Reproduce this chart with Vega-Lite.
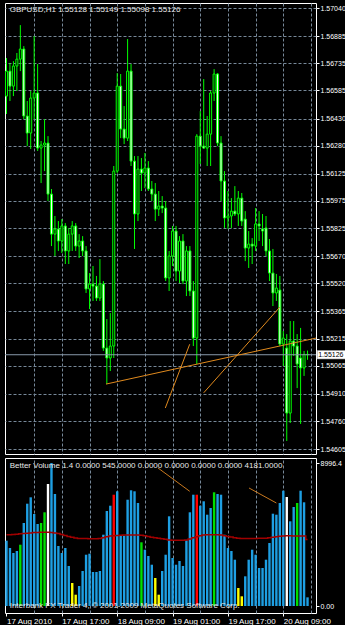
{
  "$schema": "https://vega.github.io/schema/vega-lite/v6.json",
  "background": "#000000",
  "padding": {"left": 2, "top": 2, "right": 0, "bottom": 0},
  "spacing": 2,
  "config": {
    "view": {"fill": "#000000", "stroke": "#ffffff", "strokeWidth": 1},
    "axis": {"labelColor": "#ffffff", "labelFont": "Liberation Sans", "labelFontSize": 8, "tickColor": "#ffffff", "domain": false, "gridColor": "#778899", "gridDash": [3, 2], "gridOpacity": 1, "gridWidth": 1},
    "text": {"font": "Liberation Sans", "fontSize": 8}
  },
  "datasets": {
    "candles": [
      {"i":0,"o":1.56554,"h":1.56764,"l":1.56455,"c":1.56692},
      {"i":1,"o":1.56692,"h":1.56736,"l":1.56527,"c":1.56609},
      {"i":2,"o":1.56609,"h":1.56747,"l":1.56554,"c":1.56720},
      {"i":3,"o":1.56720,"h":1.56792,"l":1.56582,"c":1.56758},
      {"i":4,"o":1.56758,"h":1.56946,"l":1.56692,"c":1.56814},
      {"i":5,"o":1.56814,"h":1.56830,"l":1.56427,"c":1.56444},
      {"i":6,"o":1.56444,"h":1.56527,"l":1.56278,"c":1.56350},
      {"i":7,"o":1.56350,"h":1.56582,"l":1.56262,"c":1.56543},
      {"i":8,"o":1.56543,"h":1.56885,"l":1.56427,"c":1.56571},
      {"i":9,"o":1.56571,"h":1.56731,"l":1.56251,"c":1.56267},
      {"i":10,"o":1.56267,"h":1.56306,"l":1.56074,"c":1.56284},
      {"i":11,"o":1.56284,"h":1.56427,"l":1.56140,"c":1.56295},
      {"i":12,"o":1.56295,"h":1.56333,"l":1.55975,"c":1.56013},
      {"i":13,"o":1.56013,"h":1.56041,"l":1.55726,"c":1.55792},
      {"i":14,"o":1.55792,"h":1.55892,"l":1.55671,"c":1.55820},
      {"i":15,"o":1.55820,"h":1.55864,"l":1.55699,"c":1.55754},
      {"i":16,"o":1.55754,"h":1.55875,"l":1.55688,"c":1.55837},
      {"i":17,"o":1.55837,"h":1.55853,"l":1.55627,"c":1.55699},
      {"i":18,"o":1.55699,"h":1.55826,"l":1.55627,"c":1.55792},
      {"i":19,"o":1.55792,"h":1.55864,"l":1.55699,"c":1.55837},
      {"i":20,"o":1.55837,"h":1.55853,"l":1.55699,"c":1.55726},
      {"i":21,"o":1.55726,"h":1.55792,"l":1.55660,"c":1.55754},
      {"i":22,"o":1.55754,"h":1.55781,"l":1.55671,"c":1.55699},
      {"i":23,"o":1.55699,"h":1.55726,"l":1.55467,"c":1.55489},
      {"i":24,"o":1.55489,"h":1.55577,"l":1.55378,"c":1.55516},
      {"i":25,"o":1.55516,"h":1.55616,"l":1.55423,"c":1.55505},
      {"i":26,"o":1.55505,"h":1.55561,"l":1.55423,"c":1.55439},
      {"i":27,"o":1.55439,"h":1.55654,"l":1.55423,"c":1.55516},
      {"i":28,"o":1.55516,"h":1.55533,"l":1.55147,"c":1.55163},
      {"i":29,"o":1.55163,"h":1.55323,"l":1.54964,"c":1.55108},
      {"i":30,"o":1.55108,"h":1.55356,"l":1.55036,"c":1.55174},
      {"i":31,"o":1.55174,"h":1.56168,"l":1.55108,"c":1.56140},
      {"i":32,"o":1.56140,"h":1.56681,"l":1.56129,"c":1.56609},
      {"i":33,"o":1.56609,"h":1.56676,"l":1.56322,"c":1.56372},
      {"i":34,"o":1.56372,"h":1.56499,"l":1.56289,"c":1.56322},
      {"i":35,"o":1.56322,"h":1.56869,"l":1.56306,"c":1.56692},
      {"i":36,"o":1.56692,"h":1.56731,"l":1.56168,"c":1.56195},
      {"i":37,"o":1.56195,"h":1.56223,"l":1.55710,"c":1.55903},
      {"i":38,"o":1.55903,"h":1.56223,"l":1.55864,"c":1.56151},
      {"i":39,"o":1.56151,"h":1.56212,"l":1.56030,"c":1.56129},
      {"i":40,"o":1.56129,"h":1.56240,"l":1.56046,"c":1.56157},
      {"i":41,"o":1.56157,"h":1.56195,"l":1.56030,"c":1.56041},
      {"i":42,"o":1.56041,"h":1.56085,"l":1.55975,"c":1.56013},
      {"i":43,"o":1.56013,"h":1.56074,"l":1.55864,"c":1.55930},
      {"i":44,"o":1.55930,"h":1.56030,"l":1.55892,"c":1.55947},
      {"i":45,"o":1.55947,"h":1.56002,"l":1.55908,"c":1.55936},
      {"i":46,"o":1.55936,"h":1.55975,"l":1.55533,"c":1.55550},
      {"i":47,"o":1.55550,"h":1.55699,"l":1.55478,"c":1.55671},
      {"i":48,"o":1.55671,"h":1.55837,"l":1.55616,"c":1.55809},
      {"i":49,"o":1.55809,"h":1.55837,"l":1.55533,"c":1.55588},
      {"i":50,"o":1.55588,"h":1.55781,"l":1.55522,"c":1.55754},
      {"i":51,"o":1.55754,"h":1.55792,"l":1.55516,"c":1.55533},
      {"i":52,"o":1.55533,"h":1.55726,"l":1.55450,"c":1.55699},
      {"i":53,"o":1.55699,"h":1.55726,"l":1.55450,"c":1.55478},
      {"i":54,"o":1.55478,"h":1.55533,"l":1.55174,"c":1.55218},
      {"i":55,"o":1.55218,"h":1.56344,"l":1.55075,"c":1.56333},
      {"i":56,"o":1.56333,"h":1.56471,"l":1.56179,"c":1.56278},
      {"i":57,"o":1.56278,"h":1.56648,"l":1.56262,"c":1.56267},
      {"i":58,"o":1.56267,"h":1.56444,"l":1.56168,"c":1.56344},
      {"i":59,"o":1.56344,"h":1.56582,"l":1.56168,"c":1.56571},
      {"i":60,"o":1.56571,"h":1.56703,"l":1.56527,"c":1.56676},
      {"i":61,"o":1.56676,"h":1.56681,"l":1.56278,"c":1.56295},
      {"i":62,"o":1.56295,"h":1.56333,"l":1.55975,"c":1.56085},
      {"i":63,"o":1.56085,"h":1.56140,"l":1.55826,"c":1.55881},
      {"i":64,"o":1.55881,"h":1.56030,"l":1.55820,"c":1.55892},
      {"i":65,"o":1.55892,"h":1.55991,"l":1.55826,"c":1.55919},
      {"i":66,"o":1.55919,"h":1.56057,"l":1.55892,"c":1.55903},
      {"i":67,"o":1.55903,"h":1.56030,"l":1.55837,"c":1.55991},
      {"i":68,"o":1.55991,"h":1.56019,"l":1.55837,"c":1.55864},
      {"i":69,"o":1.55875,"h":1.55919,"l":1.55643,"c":1.55715},
      {"i":70,"o":1.55715,"h":1.55809,"l":1.55605,"c":1.55737},
      {"i":71,"o":1.55737,"h":1.55770,"l":1.55627,"c":1.55726},
      {"i":72,"o":1.55726,"h":1.55936,"l":1.55699,"c":1.55848},
      {"i":73,"o":1.55848,"h":1.55919,"l":1.55754,"c":1.55837},
      {"i":74,"o":1.55820,"h":1.55903,"l":1.55726,"c":1.55809},
      {"i":75,"o":1.55826,"h":1.55892,"l":1.55671,"c":1.55699},
      {"i":76,"o":1.55699,"h":1.55765,"l":1.55533,"c":1.55577},
      {"i":77,"o":1.55577,"h":1.55710,"l":1.55395,"c":1.55467},
      {"i":78,"o":1.55467,"h":1.55572,"l":1.55423,"c":1.55494},
      {"i":79,"o":1.55483,"h":1.55561,"l":1.55174,"c":1.55185},
      {"i":80,"o":1.55185,"h":1.55257,"l":1.55064,"c":1.55218},
      {"i":81,"o":1.55163,"h":1.55240,"l":1.54650,"c":1.54804},
      {"i":82,"o":1.54804,"h":1.55312,"l":1.54749,"c":1.55202},
      {"i":83,"o":1.55202,"h":1.55312,"l":1.55119,"c":1.55174},
      {"i":84,"o":1.55174,"h":1.55240,"l":1.54942,"c":1.55075},
      {"i":85,"o":1.55108,"h":1.55274,"l":1.54744,"c":1.55053},
      {"i":86,"o":1.55053,"h":1.55147,"l":1.55009,"c":1.55128},
      {"i":87,"o":1.55128,"h":1.55149,"l":1.55098,"c":1.55126}
    ],
    "vol": [
      {"i":0,"v":4108,"type":"Normal","avg":4480},
      {"i":1,"v":3649,"type":"Normal","avg":4490},
      {"i":2,"v":3334,"type":"Normal","avg":4500},
      {"i":3,"v":3460,"type":"Normal","avg":4520},
      {"i":4,"v":3856,"type":"Churn","avg":4540},
      {"i":5,"v":5222,"type":"Normal","avg":4560},
      {"i":6,"v":6436,"type":"Normal","avg":4580},
      {"i":7,"v":6838,"type":"Normal","avg":4600},
      {"i":8,"v":5788,"type":"Normal","avg":4620},
      {"i":9,"v":5159,"type":"Normal","avg":4630},
      {"i":10,"v":5222,"type":"Churn","avg":4640},
      {"i":11,"v":5895,"type":"Churn","avg":4640},
      {"i":12,"v":7675,"type":"ClimaxLow","avg":4640},
      {"i":13,"v":8996.4,"type":"Normal","avg":4630},
      {"i":14,"v":7046,"type":"Normal","avg":4600},
      {"i":15,"v":3775,"type":"Normal","avg":4560},
      {"i":16,"v":3334,"type":"Normal","avg":4500},
      {"i":17,"v":3649,"type":"Normal","avg":4440},
      {"i":18,"v":2516,"type":"Normal","avg":4380},
      {"i":19,"v":1447,"type":"LowVol","avg":4320},
      {"i":20,"v":711,"type":"LowVol","avg":4280},
      {"i":21,"v":1258,"type":"Normal","avg":4250},
      {"i":22,"v":2202,"type":"Normal","avg":4240},
      {"i":23,"v":3227,"type":"Normal","avg":4240},
      {"i":24,"v":3290,"type":"Normal","avg":4230},
      {"i":25,"v":2139,"type":"Normal","avg":4230},
      {"i":26,"v":2139,"type":"Normal","avg":4230},
      {"i":27,"v":2202,"type":"Normal","avg":4240},
      {"i":28,"v":4486,"type":"Normal","avg":4300},
      {"i":29,"v":5976,"type":"Normal","avg":4360},
      {"i":30,"v":6310,"type":"Normal","avg":4400},
      {"i":31,"v":7002,"type":"ClimaxHigh","avg":4420},
      {"i":32,"v":7216,"type":"Normal","avg":4440},
      {"i":33,"v":4404,"type":"Normal","avg":4450},
      {"i":34,"v":4423,"type":"Normal","avg":4460},
      {"i":35,"v":6687,"type":"Normal","avg":4470},
      {"i":36,"v":7279,"type":"Normal","avg":4470},
      {"i":37,"v":7216,"type":"Normal","avg":4470},
      {"i":38,"v":6480,"type":"Normal","avg":4460},
      {"i":39,"v":4007,"type":"Churn","avg":4450},
      {"i":40,"v":3542,"type":"Normal","avg":4420},
      {"i":41,"v":3146,"type":"Normal","avg":4380},
      {"i":42,"v":2598,"type":"Normal","avg":4330},
      {"i":43,"v":1761,"type":"LowVol","avg":4290},
      {"i":44,"v":711,"type":"LowVol","avg":4260},
      {"i":45,"v":2202,"type":"Normal","avg":4230},
      {"i":46,"v":3227,"type":"Normal","avg":4200},
      {"i":47,"v":5643,"type":"Normal","avg":4160},
      {"i":48,"v":3020,"type":"Normal","avg":4140},
      {"i":49,"v":2598,"type":"Normal","avg":4130},
      {"i":50,"v":2831,"type":"Normal","avg":4130},
      {"i":51,"v":2516,"type":"Normal","avg":4140},
      {"i":52,"v":4133,"type":"Normal","avg":4160},
      {"i":53,"v":5895,"type":"Normal","avg":4220},
      {"i":54,"v":7002,"type":"Normal","avg":4290},
      {"i":55,"v":7002,"type":"ClimaxHigh","avg":4360},
      {"i":56,"v":6310,"type":"Normal","avg":4420},
      {"i":57,"v":6587,"type":"Normal","avg":4460},
      {"i":58,"v":5744,"type":"Normal","avg":4480},
      {"i":59,"v":6165,"type":"Normal","avg":4490},
      {"i":60,"v":7153,"type":"Churn","avg":4490},
      {"i":61,"v":7046,"type":"Normal","avg":4480},
      {"i":62,"v":7002,"type":"Normal","avg":4460},
      {"i":63,"v":4486,"type":"Normal","avg":4420},
      {"i":64,"v":3649,"type":"Normal","avg":4380},
      {"i":65,"v":3460,"type":"Normal","avg":4340},
      {"i":66,"v":2913,"type":"Normal","avg":4300},
      {"i":67,"v":1132,"type":"LowVol","avg":4270},
      {"i":68,"v":610,"type":"LowVol","avg":4250},
      {"i":69,"v":1868,"type":"Normal","avg":4240},
      {"i":70,"v":2913,"type":"Normal","avg":4240},
      {"i":71,"v":3542,"type":"Normal","avg":4240},
      {"i":72,"v":3227,"type":"Normal","avg":4250},
      {"i":73,"v":2391,"type":"Normal","avg":4260},
      {"i":74,"v":2391,"type":"Normal","avg":4260},
      {"i":75,"v":2913,"type":"Normal","avg":4270},
      {"i":76,"v":3963,"type":"Normal","avg":4290},
      {"i":77,"v":5807,"type":"Normal","avg":4320},
      {"i":78,"v":5744,"type":"Normal","avg":4360},
      {"i":79,"v":6480,"type":"Normal","avg":4390},
      {"i":80,"v":7254,"type":"Normal","avg":4410},
      {"i":81,"v":6857,"type":"ClimaxLow","avg":4420},
      {"i":82,"v":5328,"type":"Normal","avg":4420},
      {"i":83,"v":6228,"type":"Normal","avg":4410},
      {"i":84,"v":6480,"type":"Churn","avg":4400},
      {"i":85,"v":7254,"type":"Normal","avg":4400},
      {"i":86,"v":6524,"type":"Normal","avg":4400},
      {"i":87,"v":545,"type":"Normal","avg":4181}
    ],
    "trend": [
      {"id":"a","i":28.76,"p":1.54964},
      {"id":"a","i":89.45,"p":1.55218},
      {"id":"b","i":45.9,"p":1.54832},
      {"id":"b","i":52.95,"p":1.55184},
      {"id":"c","i":57.0,"p":1.54916},
      {"id":"c","i":79.0,"p":1.55389}
    ],
    "vtrend": [
      {"id":"a","i":43.8,"v":8682},
      {"id":"a","i":52.95,"v":7216},
      {"id":"b","i":70.1,"v":7423},
      {"id":"b","i":78.0,"v":6480}
    ]
  },
  "vconcat": [
    {
      "width": 311,
      "height": 451,
      "resolve": {"axis": {"x": "independent", "y": "independent"}},
      "layer": [
        {
          "data": {"name": "candles"},
          "mark": {"type": "rule", "color": "#00ff00", "strokeWidth": 1},
          "encoding": {
            "x": {"field": "i", "type": "quantitative", "title": null,
              "scale": {"domain": [-0.43, 89.45], "nice": false, "zero": false, "padding": 0},
              "axis": {"orient": "bottom", "values": [8,16,24,32,40,48,56,64,72,80,88], "labels": false, "ticks": false, "domain": false, "grid": true, "minExtent": 0, "maxExtent": 0, "offset": 0}},
            "y": {"field": "l", "type": "quantitative", "title": null,
              "scale": {"domain": [1.54578, 1.57068], "nice": false, "zero": false, "padding": 0},
              "axis": {"orient": "right", "values": [1.57040,1.56885,1.56735,1.56585,1.56430,1.56280,1.56125,1.55975,1.55825,1.55670,1.55520,1.55365,1.55215,1.55065,1.54910,1.54760,1.54605], "format": ".5f", "grid": true, "tickSize": 3, "labelPadding": 1, "labelAlign": "left", "labelFontSize": 7, "labelOverlap": false, "labelBound": false, "labelFlush": false}},
            "y2": {"field": "h"}
          }
        },
        {
          "data": {"name": "candles"},
          "mark": {"type": "bar", "size": 2, "stroke": "#00ff00", "strokeWidth": 1},
          "encoding": {
            "x": {"field": "i", "type": "quantitative", "axis": null},
            "y": {"field": "o", "type": "quantitative", "axis": null},
            "y2": {"field": "c"},
            "fill": {"condition": {"test": "datum.c < datum.o", "value": "#ffffff"}, "value": "#000000"}
          }
        },
        {
          "data": {"values": [{"bid": 1.55126, "lbl": "1.55126"}]},
          "mark": {"type": "rule", "color": "#8899aa", "strokeWidth": 1},
          "encoding": {"y": {"field": "bid", "type": "quantitative", "axis": null}}
        },
        {
          "data": {"name": "trend"},
          "mark": {"type": "line", "color": "#e08a1e", "strokeWidth": 1},
          "encoding": {
            "x": {"field": "i", "type": "quantitative", "axis": null},
            "y": {"field": "p", "type": "quantitative", "axis": null},
            "detail": {"field": "id"}
          }
        },
        {
          "data": {"values": [{"bid": 1.55126, "lbl": "1.55126"}]},
          "mark": {"type": "rect", "fill": "#ffffff", "stroke": "#c0c0c0", "strokeWidth": 0.5},
          "encoding": {
            "x": {"datum": 89.8, "type": "quantitative", "axis": null},
            "x2": {"datum": 98.4},
            "y": {"datum": 1.55149, "type": "quantitative", "axis": null},
            "y2": {"datum": 1.55103}
          }
        },
        {
          "data": {"values": [{"bid": 1.55126, "lbl": "1.55126"}]},
          "mark": {"type": "text", "align": "left", "baseline": "middle", "color": "#000000", "fontSize": 7, "dx": 1},
          "encoding": {
            "x": {"datum": 89.8, "type": "quantitative", "axis": null},
            "y": {"field": "bid", "type": "quantitative", "axis": null},
            "text": {"field": "lbl"}
          }
        },
        {
          "data": {"values": [{"t": "GBPUSD,H1  1.55128 1.55149 1.55098 1.55126"}]},
          "mark": {"type": "text", "align": "left", "baseline": "middle", "color": "#e8e8e8"},
          "encoding": {
            "x": {"datum": 0.92, "type": "quantitative", "axis": null},
            "y": {"datum": 1.57031, "type": "quantitative", "axis": null},
            "text": {"field": "t"}
          }
        }
      ]
    },
    {
      "width": 311,
      "height": 155,
      "resolve": {"axis": {"x": "independent", "y": "independent"}},
      "layer": [
        {
          "data": {"name": "vol"},
          "mark": {"type": "bar", "size": 2.4},
          "encoding": {
            "x": {"field": "i", "type": "quantitative", "title": null,
              "scale": {"domain": [-0.43, 89.45], "nice": false, "zero": false, "padding": 0},
              "axis": {"orient": "top", "values": [8,16,24,32,40,48,56,64,72,80,88], "labels": false, "ticks": false, "domain": false, "grid": true, "minExtent": 0, "maxExtent": 0, "offset": 0}},
            "y": {"field": "v", "type": "quantitative", "title": null,
              "scale": {"domain": [-440, 9311], "nice": false, "zero": false, "padding": 0},
              "axis": {"orient": "right", "values": [0, 8996.4], "labelExpr": "datum.value == 0 ? '0.00' : '8996.4'", "grid": false, "tickSize": 3, "labelPadding": 1, "labelAlign": "left", "labelFontSize": 7, "labelOverlap": false, "labelBound": false, "labelFlush": false}},
            "y2": {"datum": 0},
            "color": {"field": "type", "type": "nominal", "legend": null,
              "scale": {"domain": ["Normal", "LowVol", "ClimaxHigh", "ClimaxLow", "Churn"], "range": ["#1e9fe3", "#ffff00", "#ff0000", "#ffffff", "#00e000"]}}
          }
        },
        {
          "data": {"name": "vol"},
          "mark": {"type": "line", "color": "#a00000", "strokeWidth": 1.5, "interpolate": "step"},
          "encoding": {
            "x": {"field": "i", "type": "quantitative", "title": null,
              "axis": {"orient": "bottom", "values": [0, 16, 32, 48, 64, 80], "labelExpr": "datum.value == 0 ? '17 Aug 2010' : datum.value == 16 ? '17 Aug 17:00' : datum.value == 32 ? '18 Aug 09:00' : datum.value == 48 ? '19 Aug 01:00' : datum.value == 64 ? '19 Aug 17:00' : '20 Aug 09:00'", "labelAlign": "left", "labelBaseline": "top", "tickSize": 3, "labelPadding": 1, "grid": false, "domain": false, "labelOverlap": false, "labelBound": false, "labelFlush": false}},
            "y": {"field": "avg", "type": "quantitative", "axis": null}
          }
        },
        {
          "data": {"name": "vtrend"},
          "mark": {"type": "line", "color": "#c8781e", "strokeWidth": 1},
          "encoding": {
            "x": {"field": "i", "type": "quantitative", "axis": null},
            "y": {"field": "v", "type": "quantitative", "axis": null},
            "detail": {"field": "id"}
          }
        },
        {
          "data": {"values": [{"t": "Better Volume 1.4 0.0000 545.0000 0.0000 0.0000 0.0000 0.0000 4181.0000"}]},
          "mark": {"type": "text", "align": "left", "baseline": "middle", "color": "#e8e8e8"},
          "encoding": {
            "x": {"datum": 0.92, "type": "quantitative", "axis": null},
            "y": {"datum": 8826, "type": "quantitative", "axis": null},
            "text": {"field": "t"}
          }
        },
        {
          "data": {"values": [{"t": "Interbank FX Trader 4, © 2001-2009 MetaQuotes Software Corp."}]},
          "mark": {"type": "text", "align": "left", "baseline": "middle", "color": "#e8e8e8"},
          "encoding": {
            "x": {"datum": 0.92, "type": "quantitative", "axis": null},
            "y": {"datum": -20, "type": "quantitative", "axis": null},
            "text": {"field": "t"}
          }
        }
      ]
    }
  ]
}
